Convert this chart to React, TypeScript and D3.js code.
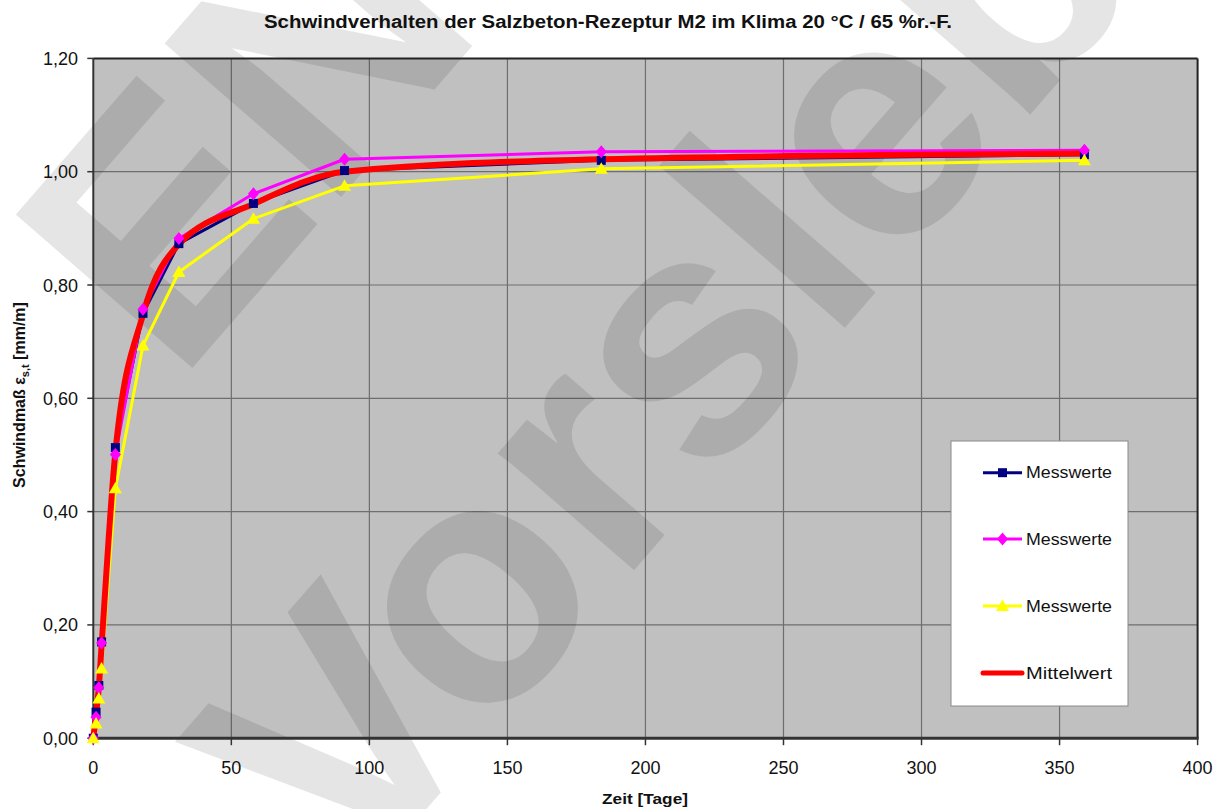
import React from "react";
import * as d3 from "d3";

// ---- data ----
const days = [0, 1, 2, 3, 8, 18, 31, 58, 91, 184, 359];
const messwerte1 = [0, 0.046, 0.093, 0.17, 0.513, 0.75, 0.873, 0.944, 1.002, 1.02, 1.03];
const messwerte2 = [0, 0.037, 0.089, 0.168, 0.501, 0.757, 0.882, 0.961, 1.022, 1.035, 1.038];
const messwerte3 = [0, 0.026, 0.07, 0.123, 0.441, 0.693, 0.823, 0.917, 0.975, 1.005, 1.02];
const mittelwert = [0, 0.042, 0.09, 0.163, 0.505, 0.748, 0.872, 0.943, 1.0, 1.022, 1.032];
const xTicks = [0, 50, 100, 150, 200, 250, 300, 350, 400];
const yTicks = [0, 0.2, 0.4, 0.6, 0.8, 1.0, 1.2];
const legendLabels = ["Messwerte", "Messwerte", "Messwerte", "Mittelwert"];
const titleText = "Schwindverhalten der Salzbeton-Rezeptur M2 im Klima 20 °C / 65 %r.-F.";
const xTitle = "Zeit [Tage]";

const W = 1231;
const H = 809;
const L = 93.3, R = 1197.6, T = 58.4, B = 738.2;
const FONT = "'Liberation Sans', Arial, Helvetica, sans-serif";

const x = d3.scaleLinear().domain([0, 400]).range([L, R]);
const y = d3.scaleLinear().domain([0, 1.2]).range([B, T]);
const fmt = (v: number) => d3.format(".2f")(v).replace(".", ",");

type Marker = "square" | "diamond" | "triangle" | "none";
const series: { values: number[]; color: string; width: number; marker: Marker; smooth: boolean }[] = [
  { values: messwerte1, color: "#000080", width: 3, marker: "square", smooth: false },
  { values: messwerte2, color: "#ff00ff", width: 3, marker: "diamond", smooth: false },
  { values: messwerte3, color: "#ffff00", width: 3, marker: "triangle", smooth: false },
  { values: mittelwert, color: "#ff0000", width: 6, marker: "none", smooth: true },
];

function markerPath(m: Marker, cx: number, cy: number): string {
  if (m === "square") return `M${cx - 4.5},${cy - 4.5}h9v9h-9Z`;
  if (m === "diamond") return `M${cx},${cy - 6.5}L${cx + 5.5},${cy}L${cx},${cy + 6.5}L${cx - 5.5},${cy}Z`;
  if (m === "triangle") return `M${cx},${cy - 6.5}L${cx + 6.5},${cy + 5}L${cx - 6.5},${cy + 5}Z`;
  return "";
}

export default function App() {
  const lineLin = d3
    .line<number>()
    .x((_, i) => x(days[i]))
    .y((d) => y(d))
    .curve(d3.curveLinear);
  const lineSmooth = d3
    .line<number>()
    .x((_, i) => x(days[i]))
    .y((d) => y(d))
    .curve(d3.curveMonotoneX);

  const legendRows = [472.7, 539, 606, 673];

  return (
    <svg
      width={W}
      height={H}
      viewBox={`0 0 ${W} ${H}`}
      style={{ position: "absolute", left: 0, top: 0, background: "#fff" }}
      fontFamily={FONT}
    >
      <defs>
        <clipPath id="pageClip">
          <rect x={0} y={0} width={W} height={H} />
        </clipPath>
      </defs>
      <rect x={0} y={0} width={W} height={H} fill="#ffffff" />
      {/* plot area */}
      <rect x={L} y={T} width={R - L} height={B - T} fill="#c0c0c0" />
      {xTicks.slice(1, -1).map((t) => (
        <line key={"gx" + t} x1={x(t)} x2={x(t)} y1={T} y2={B} stroke="#6e6e6e" strokeWidth={1.2} />
      ))}
      {yTicks.slice(1, -1).map((t) => (
        <line key={"gy" + t} x1={L} x2={R} y1={y(t)} y2={y(t)} stroke="#6e6e6e" strokeWidth={1.2} />
      ))}

      {/* watermark */}
      <g clipPath="url(#pageClip)">
        <g transform="translate(350,897) rotate(-49)" fill="rgba(0,0,0,0.1)" fontWeight="bold" fontSize={340}>
          <text x={0} y={0}>Vorsleb</text>
          <text x={273} y={-466}>ENTWURF</text>
        </g>
      </g>

      {/* borders / axes */}
      <line x1={L} x2={R} y1={T} y2={T} stroke="#222" strokeWidth={2} />
      <line x1={R} x2={R} y1={T} y2={B} stroke="#222" strokeWidth={2} />
      <line x1={L} x2={L} y1={T} y2={B} stroke="#333" strokeWidth={2} />
      <line x1={L - 1} x2={R + 1} y1={B} y2={B} stroke="#333" strokeWidth={3} />
      {yTicks.map((t) => (
        <line key={"ty" + t} x1={L - 6} x2={L} y1={y(t)} y2={y(t)} stroke="#333" strokeWidth={1.5} />
      ))}
      {xTicks.map((t) => (
        <line key={"tx" + t} x1={x(t)} x2={x(t)} y1={B} y2={B + 7} stroke="#333" strokeWidth={1.5} />
      ))}

      {/* tick labels */}
      {yTicks.map((t) => (
        <text key={"ly" + t} x={78} y={y(t) + 6.5} fontSize={18} textAnchor="end" fill="#111">
          {fmt(t)}
        </text>
      ))}
      {xTicks.map((t) => (
        <text key={"lx" + t} x={x(t)} y={774} fontSize={18} textAnchor="middle" fill="#111">
          {t}
        </text>
      ))}

      {/* series lines */}
      {series.map((s, i) => (
        <path
          key={"s" + i}
          d={(s.smooth ? lineSmooth : lineLin)(s.values) || ""}
          fill="none"
          stroke={s.color}
          strokeWidth={s.width}
          strokeLinejoin="round"
          strokeLinecap="round"
        />
      ))}
      {/* markers */}
      {series.map((s, i) =>
        s.values.map((v, j) =>
          s.marker === "none" ? null : (
            <path key={`m${i}-${j}`} d={markerPath(s.marker, x(days[j]), y(v))} fill={s.color} />
          )
        )
      )}

      {/* legend */}
      <rect x={951} y={441} width={177} height={265} fill="#ffffff" stroke="#8a8a8a" strokeWidth={1} />
      {series.map((s, i) => (
        <g key={"lg" + i}>
          <line
            x1={983}
            x2={1022}
            y1={legendRows[i]}
            y2={legendRows[i]}
            stroke={s.color}
            strokeWidth={s.marker === "none" ? 5 : 3}
            strokeLinecap={s.marker === "none" ? "round" : "butt"}
          />
          {s.marker !== "none" && <path d={markerPath(s.marker, 1002.5, legendRows[i])} fill={s.color} />}
          <text x={1026} y={legendRows[i] + 5.5} fontSize={16} fill="#111" textLength={86} lengthAdjust="spacingAndGlyphs">
            {legendLabels[i]}
          </text>
        </g>
      ))}

      {/* titles */}
      <text x={608} y={28} fontSize={18} fontWeight="bold" textAnchor="middle" fill="#111" textLength={688} lengthAdjust="spacingAndGlyphs">
        {titleText}
      </text>
      <text x={645} y={804} fontSize={15} fontWeight="bold" textAnchor="middle" fill="#111" textLength={86} lengthAdjust="spacingAndGlyphs">
        {xTitle}
      </text>
      <text
        transform="translate(25,395) rotate(-90)"
        fontSize={16}
        fontWeight="bold"
        textAnchor="middle"
        fill="#111"
      >
        Schwindmaß ε<tspan fontSize={11} dy={4}>s,t</tspan>
        <tspan dy={-4}> [mm/m]</tspan>
      </text>
    </svg>
  );
}
